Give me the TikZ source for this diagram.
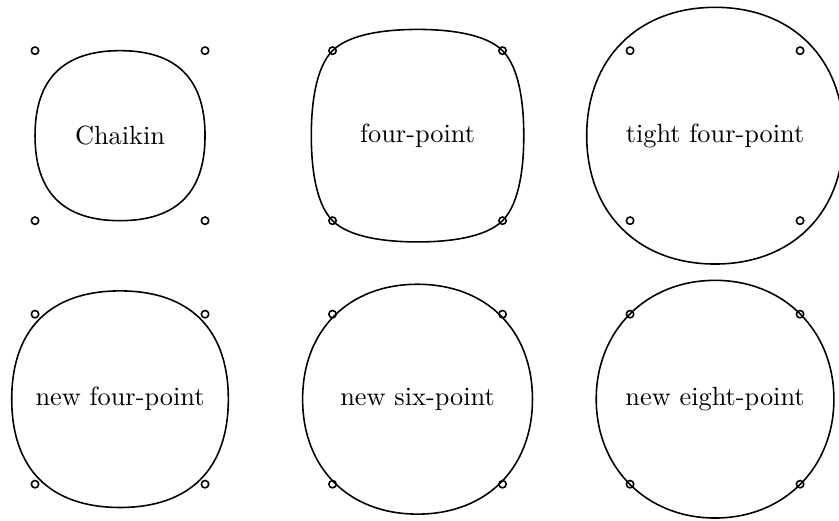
\documentclass[tikz,border=0pt]{standalone}
\begin{document}
\begin{tikzpicture}[x=2.27cm, y=2.27cm,
  curve/.style={line width=0.6pt},
  ctrl/.style={line width=0.6pt},
  schemename/.style={inner sep=0pt},
]
\useasboundingbox (-0.706,-2.266) rectangle (4.229,0.798);

% Scheme names, one per control square
\node[schemename] (chaikin)  at (0, 0)        {Chaikin};
\node[schemename] (fourpt)   at (1.75, 0)     {four-point};
\node[schemename] (tight)    at (3.5, 0)      {tight four-point};
\node[schemename] (newfour)  at (0, -1.55)    {new four-point};
\node[schemename] (newsix)   at (1.75, -1.55) {new six-point};
\node[schemename] (neweight) at (3.5, -1.55)  {new eight-point};

% Control points
\foreach \n in {chaikin, fourpt, tight, newfour, newsix, neweight}
  \foreach \sx/\sy in {-1/1, 1/1, -1/-1, 1/-1}
    \draw[ctrl, shift={(\n.center)}] (0.5*\sx, 0.5*\sy) circle[radius=1.4pt];

% Limit curves (approximating schemes)
\foreach \n/\r/\k in {chaikin/0.5/0.667, tight/0.755/0.6, newfour/0.637/0.645,
                      newsix/0.676/0.6, neweight/0.699/0.578}
  \draw[curve, shift={(\n.center)}]
    (0,\r) .. controls (\r*\k,\r) and (\r,\r*\k) .. (\r,0)
    .. controls (\r,-\r*\k) and (\r*\k,-\r) .. (0,-\r)
    .. controls (-\r*\k,-\r) and (-\r,-\r*\k) .. (-\r,0)
    .. controls (-\r,\r*\k) and (-\r*\k,\r) .. cycle;

% Interpolating four-point curve
\draw[curve, shift={(fourpt.center)}]
  (0,0.625) .. controls (0.167,0.625) and (0.396,0.604) .. (0.5,0.5)
  .. controls (0.604,0.396) and (0.625,0.167) .. (0.625,0)
  .. controls (0.625,-0.167) and (0.604,-0.396) .. (0.5,-0.5)
  .. controls (0.396,-0.604) and (0.167,-0.625) .. (0,-0.625)
  .. controls (-0.167,-0.625) and (-0.396,-0.604) .. (-0.5,-0.5)
  .. controls (-0.604,-0.396) and (-0.625,-0.167) .. (-0.625,0)
  .. controls (-0.625,0.167) and (-0.604,0.396) .. (-0.5,0.5)
  .. controls (-0.396,0.604) and (-0.167,0.625) .. cycle;

\end{tikzpicture}
\end{document}
